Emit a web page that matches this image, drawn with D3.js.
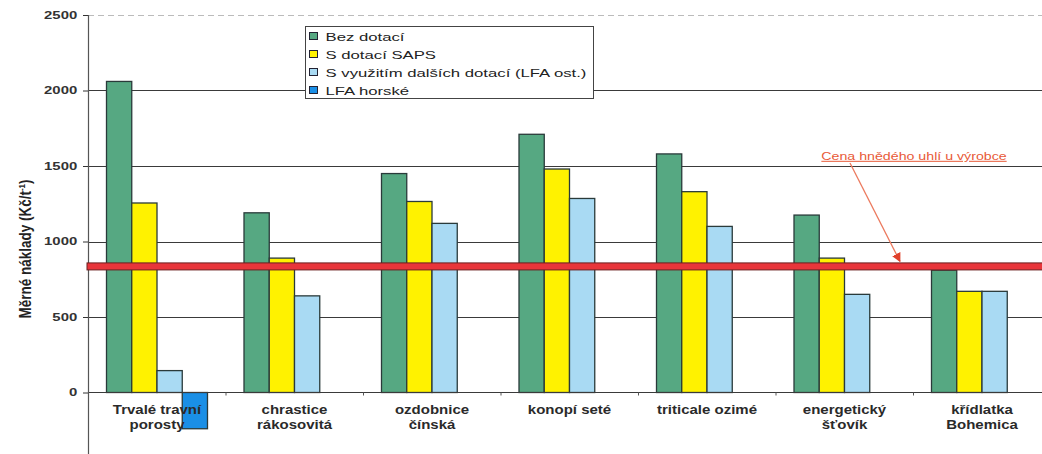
<!DOCTYPE html>
<html>
<head>
<meta charset="utf-8">
<script src="https://cdn.jsdelivr.net/npm/d3@7"></script>
<style>
  html, body { margin: 0; padding: 0; background: #fff; }
  svg { display: block; }
  text { font-family: "Liberation Sans", Arial, sans-serif; }
</style>
</head>
<body>
<svg id="chart" width="1042" height="454"></svg>
<script>
// Crop categories (two-line labels)
const categories = [
  ["Trvalé travní", "porosty"],
  ["chrastice", "rákosovitá"],
  ["ozdobnice", "čínská"],
  ["konopí seté"],
  ["triticale ozimé"],
  ["energetický", "šťovík"],
  ["křídlatka", "Bohemica"]
];
const seriesNames = [
  "Bez dotací",
  "S dotací SAPS",
  "S využitím dalších dotací (LFA ost.)",
  "LFA horské"
];
// Unit costs (Kč/t) per series, one value per category
const bezDotaci      = [2060, 1190, 1450, 1710, 1580, 1175, 810];
const sDotaciSAPS    = [1255,  890, 1265, 1480, 1330,  890, 670];
const sDalsimiDotaci = [ 145,  640, 1120, 1285, 1100,  650, 670];
const lfaHorske      = [-240, null, null, null, null, null, null];
const seriesValues = [bezDotaci, sDotaciSAPS, sDalsimiDotaci, lfaHorske];
const seriesColors = ["#56a882", "#fff200", "#a9daf3", "#1a8fe6"];

// Reference price of brown coal
const coalPrice = 835;
const coalLabel = "Cena hnědého uhlí u výrobce";
const yTicks = [0, 500, 1000, 1500, 2000, 2500];

const svg = d3.select("#chart");
const catKeys = categories.map(c => c.join(" "));

const y = d3.scaleLinear().domain([0, 2500]).range([392.5, 15]);
const x0 = d3.scaleBand().domain(catKeys).range([88.5, 1051]);
const x1 = d3.scaleBand().domain(seriesNames).range([18, 119]);

const axisX = 88;
const stretch = 1.42;

// Gridlines
svg.append("g").selectAll("line")
  .data(yTicks.filter(t => t > 0))
  .join("line")
  .attr("x1", axisX).attr("x2", 1042)
  .attr("y1", d => Math.round(y(d)) + 0.5).attr("y2", d => Math.round(y(d)) + 0.5)
  .attr("stroke", d => d === 2500 ? "#bbb" : "#3a3a3a")
  .attr("stroke-dasharray", d => d === 2500 ? "6,4" : null)
  .attr("stroke-width", 1);

// Bars
const groups = svg.append("g").selectAll("g")
  .data(catKeys)
  .join("g")
  .attr("transform", d => `translate(${x0(d)},0)`);

groups.selectAll("rect")
  .data((d, i) => seriesNames.map((s, j) => ({ s, j, v: seriesValues[j][i] })).filter(o => o.v !== null))
  .join("rect")
  .attr("x", d => x1(d.s))
  .attr("width", x1.bandwidth())
  .attr("y", d => y(Math.max(0, d.v)))
  .attr("height", d => Math.abs(y(d.v) - y(0)))
  .attr("fill", d => seriesColors[d.j])
  .attr("stroke", "#2a3a3a")
  .attr("stroke-width", 1.3);

// Zero line with category separators
svg.append("line")
  .attr("x1", axisX).attr("x2", 1042)
  .attr("y1", y(0)).attr("y2", y(0))
  .attr("stroke", "#3a3a3a").attr("stroke-width", 1);
svg.append("g").selectAll("line")
  .data(catKeys.slice(1))
  .join("line")
  .attr("x1", d => x0(d)).attr("x2", d => x0(d))
  .attr("y1", y(0)).attr("y2", y(0) + 3)
  .attr("stroke", "#555");

// Y axis
const yAxis = d3.axisLeft(y).tickValues(yTicks).tickSize(5).tickPadding(10).tickFormat(d3.format("d"));
const ag = svg.append("g").attr("transform", `translate(${axisX},0)`).call(yAxis);
ag.select(".domain").remove();
ag.selectAll(".tick line").attr("stroke", "#333");
ag.selectAll(".tick text")
  .attr("font-size", 10.5)
  .attr("fill", "#333")
  .attr("font-weight", "bold")
  .attr("transform", `translate(-10,0) scale(${stretch},1) translate(10,0)`)
  .attr("x", -15 / stretch);
svg.append("line")
  .attr("x1", axisX + 0.5).attr("x2", axisX + 0.5)
  .attr("y1", y(2500)).attr("y2", 454)
  .attr("stroke", "#555").attr("stroke-width", 1.2);

// Y axis title
const yt = svg.append("text")
  .attr("transform", "translate(31,249) rotate(-90) scale(1,1.18)")
  .attr("text-anchor", "middle")
  .attr("font-size", 13.5)
  .attr("font-weight", "bold")
  .attr("fill", "#222");
yt.append("tspan").text("Měrné náklady (Kč/t");
yt.append("tspan").attr("dy", -5).attr("font-size", 8).text("-1");
yt.append("tspan").attr("dy", 5).text(")");

// Category labels
const catG = svg.append("g").selectAll("text")
  .data(categories)
  .join("text")
  .attr("transform", (d, i) => `translate(${x0(catKeys[i]) + 68.5},414) scale(1.2,1)`)
  .attr("text-anchor", "middle")
  .attr("font-size", 12.5)
  .attr("font-weight", "bold")
  .attr("fill", "#2a2a2a");
catG.selectAll("tspan")
  .data(d => d)
  .join("tspan")
  .attr("x", 0)
  .attr("dy", (d, i) => i === 0 ? 0 : 15)
  .text(d => d);

// Coal price line
svg.append("rect")
  .attr("x", axisX - 1).attr("width", 1042 - axisX + 2)
  .attr("y", y(coalPrice) - 3.5).attr("height", 7)
  .attr("fill", "#e8353a").attr("stroke", "#6a2020").attr("stroke-width", 1);

// Annotation
svg.append("text")
  .attr("transform", `translate(914,160) scale(${stretch},1)`)
  .attr("text-anchor", "middle")
  .attr("font-size", 10)
  .attr("fill", "#e85a38")
  .attr("text-decoration", "underline")
  .text(coalLabel);
svg.append("defs").append("marker")
  .attr("id", "arrowHead").attr("viewBox", "0 0 10 10")
  .attr("refX", 9).attr("refY", 5)
  .attr("markerWidth", 7).attr("markerHeight", 7)
  .attr("orient", "auto")
  .append("path").attr("d", "M0,0L10,5L0,10z").attr("fill", "#e0402a");
svg.append("line")
  .attr("x1", 850).attr("y1", 163)
  .attr("x2", 900).attr("y2", y(coalPrice) - 5)
  .attr("stroke", "#ec7a5e").attr("stroke-width", 1.3)
  .attr("marker-end", "url(#arrowHead)");

// Legend
const lg = svg.append("g").attr("transform", "translate(305.5,26.5)");
lg.append("rect").attr("width", 288).attr("height", 72)
  .attr("fill", "#fff").attr("stroke", "#444").attr("stroke-width", 1);
const li = lg.selectAll("g.item")
  .data(seriesNames)
  .join("g")
  .attr("class", "item")
  .attr("transform", (d, i) => `translate(0,${10 + i * 18})`);
li.append("rect")
  .attr("x", 4).attr("y", -4).attr("width", 8).attr("height", 7)
  .attr("fill", (d, i) => seriesColors[i])
  .attr("stroke", "#223").attr("stroke-width", 1);
li.append("text")
  .attr("transform", "translate(20,4) scale(1.52,1)")
  .attr("font-size", 11)
  .attr("fill", "#222")
  .text(d => d);
</script>
</body>
</html>
